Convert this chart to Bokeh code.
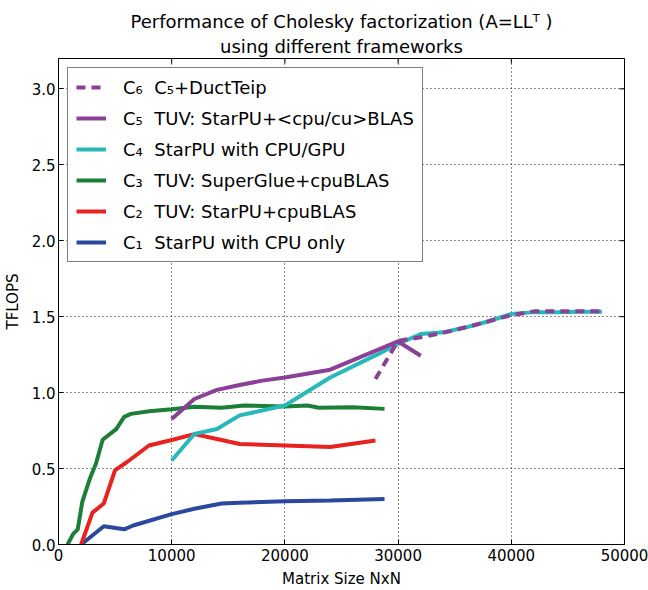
import math
from bokeh.plotting import figure
from bokeh.models import (Title, Legend, LegendItem, Range1d, FixedTicker,
                          NumeralTickFormatter)
from bokeh.embed import file_html
from bokeh.resources import INLINE

# ---- data ----
c1_x = [2000, 4000, 5800, 6600, 10000, 12000, 14400, 16000, 20000, 24000, 28800]
c1_y = [0.0, 0.12, 0.10, 0.125, 0.20, 0.235, 0.27, 0.275, 0.285, 0.29, 0.30]

c2_x = [2000, 3000, 4000, 5000, 6000, 8000, 10000, 12000, 14000, 16000, 20000, 24000, 28000]
c2_y = [0.0, 0.21, 0.27, 0.49, 0.54, 0.652, 0.688, 0.727, 0.695, 0.662, 0.652, 0.642, 0.685]

c3_x = [800, 1300, 1700, 2100, 2800, 3300, 3900, 5100, 5800, 6400, 8000, 10000, 12000,
        14400, 16400, 20000, 22000, 23000, 26000, 28800]
c3_y = [0.0, 0.07, 0.10, 0.28, 0.44, 0.53, 0.69, 0.76, 0.84, 0.86, 0.877, 0.89, 0.907,
        0.90, 0.915, 0.908, 0.915, 0.90, 0.903, 0.893]

c4_x = [10000, 12000, 14000, 16000, 20000, 24000, 28000, 30000, 32000, 34000, 36000,
        38000, 40000, 42000, 44000, 46000, 48000]
c4_y = [0.553, 0.728, 0.76, 0.85, 0.915, 1.10, 1.245, 1.32, 1.386, 1.397, 1.43,
        1.47, 1.518, 1.53, 1.53, 1.533, 1.533]

c5_x = [10000, 12000, 14000, 16000, 18000, 20000, 24000, 30000, 32000]
c5_y = [0.827, 0.958, 1.018, 1.05, 1.079, 1.10, 1.151, 1.337, 1.243]

c6_x = [28000, 30000, 32000, 34000, 36000, 38000, 40000, 42000, 44000, 46000, 48000]
c6_y = [1.09, 1.342, 1.364, 1.395, 1.43, 1.47, 1.51, 1.535, 1.535, 1.535, 1.535]

labels = {
    "c6": "C\u2086  C\u2085+DuctTeip",
    "c5": "C\u2085  TUV: StarPU+<cpu/cu>BLAS",
    "c4": "C\u2084  StarPU with CPU/GPU",
    "c3": "C\u2083  TUV: SuperGlue+cpuBLAS",
    "c2": "C\u2082  TUV: StarPU+cpuBLAS",
    "c1": "C\u2081  StarPU with CPU only",
}
x_ticks = [0, 10000, 20000, 30000, 40000, 50000]
y_ticks = [0.0, 0.5, 1.0, 1.5, 2.0, 2.5, 3.0]
x_max = 50000
y_max = 3.2

FONT = "DejaVu Sans"
colors = {"c1": "#2a489e", "c2": "#e8221e", "c3": "#1b7f37",
          "c4": "#27b9b9", "c5": "#8c3f96", "c6": "#8c3f96"}

p = figure(width=648, height=590, output_backend="svg", toolbar_location=None,
           x_range=Range1d(0, x_max), y_range=Range1d(0, y_max),
           min_border_left=58, min_border_right=24, min_border_top=58,
           min_border_bottom=46, title=None)
p.background_fill_color = "white"
p.border_fill_color = "white"
p.outline_line_color = "black"
p.outline_line_width = 1

# axes
for ax in p.xaxis + p.yaxis:
    ax.major_tick_in = 5
    ax.major_tick_out = 0
    ax.minor_tick_line_color = None
    ax.axis_line_color = "black"
    ax.major_tick_line_color = "black"
    ax.major_label_text_font = FONT
    ax.major_label_text_font_size = "15px"
    ax.major_label_text_color = "black"
    ax.axis_label_text_font = FONT
    ax.axis_label_text_font_size = "15px"
    ax.axis_label_text_font_style = "normal"
    ax.axis_label_text_color = "black"
p.xaxis.ticker = FixedTicker(ticks=x_ticks)
p.yaxis.ticker = FixedTicker(ticks=y_ticks)
p.xaxis.axis_label = "Matrix Size NxN"
p.yaxis.axis_label = "TFLOPS"
p.xaxis.major_label_standoff = 4
p.xaxis.axis_label_standoff = 6
p.yaxis.major_label_standoff = 3
p.yaxis.axis_label_standoff = 7
p.yaxis.formatter = NumeralTickFormatter(format="0.0")
p.xaxis.formatter = NumeralTickFormatter(format="0")

# grid
for g in p.xgrid + p.ygrid:
    g.grid_line_color = "black"
    g.grid_line_dash = "1 3"
    g.grid_line_width = 1
    g.grid_line_alpha = 0.9
p.xgrid.ticker = FixedTicker(ticks=x_ticks)
p.ygrid.ticker = FixedTicker(ticks=y_ticks)

# mirrored inward ticks on the top and right frame edges
p.ray(x=x_ticks, y=[y_max] * len(x_ticks), length=5, length_units="screen",
      angle=-math.pi / 2, line_color="black", line_width=1)
p.ray(x=[x_max] * len(y_ticks), y=y_ticks, length=5, length_units="screen",
      angle=math.pi, line_color="black", line_width=1)

# titles (second line added first so it sits closest to the frame)
p.add_layout(Title(text="using different frameworks", align="center",
                   text_font=FONT, text_font_size="18px", text_font_style="normal",
                   text_color="black", standoff=3, offset=0), "above")
p.add_layout(Title(text="Performance of Cholesky factorization (A=LL\u1d40 )", align="center",
                   text_font=FONT, text_font_size="18px", text_font_style="normal",
                   text_color="black", standoff=2, offset=0), "above")

LW = 4
r1 = p.line(c1_x, c1_y, line_color=colors["c1"], line_width=LW)
r2 = p.line(c2_x, c2_y, line_color=colors["c2"], line_width=LW)
r3 = p.line(c3_x, c3_y, line_color=colors["c3"], line_width=LW)
r4 = p.line(c4_x, c4_y, line_color=colors["c4"], line_width=LW)
r5 = p.line(c5_x, c5_y, line_color=colors["c5"], line_width=LW)
r6 = p.line(c6_x, c6_y, line_color=colors["c6"], line_width=LW, line_dash="9 6")

legend = Legend(items=[
    LegendItem(label=labels["c6"], renderers=[r6]),
    LegendItem(label=labels["c5"], renderers=[r5]),
    LegendItem(label=labels["c4"], renderers=[r4]),
    LegendItem(label=labels["c3"], renderers=[r3]),
    LegendItem(label=labels["c2"], renderers=[r2]),
    LegendItem(label=labels["c1"], renderers=[r1]),
], location="top_left")
legend.border_line_color = "black"
legend.border_line_width = 1
legend.background_fill_color = "white"
legend.background_fill_alpha = 1
legend.label_text_font = FONT
legend.label_text_font_size = "18px"
legend.label_text_color = "black"
legend.glyph_width = 30
legend.glyph_height = 22
legend.label_height = 22
legend.spacing = 9
legend.padding = 8
legend.label_standoff = 17
legend.margin = 9
p.add_layout(legend, "center")

open("out.html", "w").write(file_html(p, INLINE))
